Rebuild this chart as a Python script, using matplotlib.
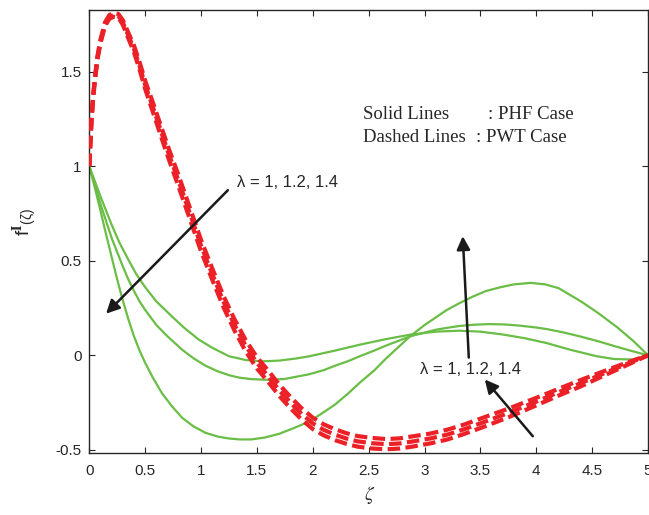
import matplotlib
matplotlib.use("Agg")
import matplotlib.pyplot as plt

# ---- data ----
# solid lines (PHF case)
xa = [0, 0.05, 0.1, 0.15, 0.2, 0.25, 0.3, 0.35, 0.4, 0.45, 0.5, 0.57, 0.65, 0.74, 0.83,
      0.93, 1.04, 1.15, 1.25, 1.35, 1.45, 1.57, 1.7, 1.83, 1.97, 2.1, 2.2, 2.32, 2.42,
      2.55, 2.65, 2.76, 2.87, 3.0, 3.1, 3.2, 3.31, 3.43, 3.55, 3.68, 3.8, 3.95, 4.08,
      4.2, 4.3, 4.4, 4.55, 4.72, 4.87, 5.0]
ya = [1.0, 0.885, 0.765, 0.64, 0.52, 0.40, 0.29, 0.19, 0.10, 0.025, -0.04, -0.12, -0.20,
      -0.27, -0.33, -0.375, -0.41, -0.43, -0.44, -0.445, -0.445, -0.435, -0.415, -0.385,
      -0.35, -0.30, -0.26, -0.20, -0.145, -0.08, -0.02, 0.04, 0.10, 0.16, 0.20, 0.24,
      0.275, 0.31, 0.34, 0.36, 0.375, 0.383, 0.375, 0.355, 0.32, 0.285, 0.225, 0.15,
      0.075, 0.0]

xb = [0, 0.05, 0.1, 0.15, 0.2, 0.25, 0.3, 0.35, 0.4, 0.45, 0.5, 0.6, 0.7, 0.83, 0.93,
      1.04, 1.15, 1.25, 1.34, 1.45, 1.61, 1.75, 1.97, 2.1, 2.2, 2.32, 2.42, 2.55, 2.65,
      2.76, 2.87, 3.0, 3.1, 3.2, 3.31, 3.45, 3.58, 3.72, 3.85, 4.0, 4.1, 4.25, 4.39,
      4.55, 4.72, 4.87, 5.0]
yb = [1.0, 0.90, 0.80, 0.71, 0.62, 0.545, 0.47, 0.40, 0.34, 0.285, 0.24, 0.16, 0.10,
      0.03, -0.015, -0.055, -0.085, -0.105, -0.118, -0.126, -0.13, -0.125, -0.10, -0.078,
      -0.055, -0.03, -0.005, 0.025, 0.05, 0.075, 0.10, 0.12, 0.135, 0.145, 0.155, 0.162,
      0.165, 0.163, 0.157, 0.147, 0.138, 0.12, 0.10, 0.075, 0.045, 0.02, 0.0]

xc = [0, 0.05, 0.1, 0.15, 0.2, 0.27, 0.35, 0.42, 0.5, 0.6, 0.74, 0.85, 0.98, 1.1, 1.25,
      1.4, 1.55, 1.7, 1.85, 1.97, 2.2, 2.42, 2.65, 2.87, 3.1, 3.31, 3.5, 3.7, 3.9, 4.09,
      4.3, 4.54, 4.7, 4.86, 5.0]
yc = [1.0, 0.92, 0.84, 0.765, 0.69, 0.595, 0.505, 0.43, 0.36, 0.285, 0.205, 0.145, 0.083,
      0.04, -0.005, -0.025, -0.032, -0.028, -0.017, -0.005, 0.025, 0.056, 0.085, 0.109,
      0.125, 0.13, 0.125, 0.11, 0.09, 0.065, 0.03, -0.005, -0.02, -0.022, 0.0]

# dashed lines (PWT case)
xr = [0, 0.01, 0.02, 0.035, 0.05, 0.075, 0.1, 0.14, 0.18, 0.22, 0.26, 0.3, 0.35, 0.4,
      0.45, 0.5, 0.57, 0.65, 0.72, 0.8, 0.9, 1.0, 1.1, 1.2, 1.3, 1.4, 1.5, 1.6, 1.7, 1.8,
      1.9, 2.0, 2.1, 2.2, 2.3, 2.4, 2.53, 2.66, 2.78, 2.9, 3.05, 3.2, 3.35, 3.5, 3.75,
      4.0, 4.2, 4.4, 4.6, 4.8, 5.0]
yr1 = [1.0, 1.125, 1.24, 1.36, 1.45, 1.57, 1.65, 1.74, 1.78, 1.79,
       1.785, 1.748, 1.675, 1.602, 1.51, 1.408, 1.285, 1.143, 1.022, 0.89,
       0.72, 0.55, 0.40, 0.255, 0.13, 0.02, -0.07, -0.14, -0.215, -0.28,
       -0.34, -0.39, -0.424, -0.449, -0.468, -0.483, -0.493, -0.497, -0.493, -0.482,
       -0.466, -0.446, -0.417, -0.385, -0.328, -0.265, -0.213, -0.164, -0.109, -0.055,
       0.0]
yr2 = [1.0, 1.13, 1.25, 1.37, 1.46, 1.58, 1.66, 1.75, 1.79, 1.80,
       1.795, 1.76, 1.69, 1.62, 1.53, 1.43, 1.31, 1.17, 1.05, 0.92,
       0.75, 0.58, 0.43, 0.285, 0.16, 0.05, -0.04, -0.11, -0.185, -0.25,
       -0.31, -0.36, -0.395, -0.42, -0.44, -0.455, -0.465, -0.47, -0.466, -0.455,
       -0.44, -0.42, -0.392, -0.36, -0.305, -0.245, -0.195, -0.147, -0.097, -0.048,
       0.0]
yr3 = [1.0, 1.135, 1.26, 1.38, 1.47, 1.59, 1.67, 1.76, 1.80, 1.81,
       1.805, 1.772, 1.705, 1.638, 1.55, 1.452, 1.335, 1.197, 1.078, 0.95,
       0.78, 0.61, 0.46, 0.315, 0.19, 0.08, -0.01, -0.08, -0.155, -0.22,
       -0.28, -0.33, -0.366, -0.391, -0.412, -0.427, -0.437, -0.443, -0.439, -0.428,
       -0.414, -0.394, -0.367, -0.335, -0.282, -0.225, -0.177, -0.13, -0.085, -0.041,
       0.0]

xticks = [0, 0.5, 1, 1.5, 2, 2.5, 3, 3.5, 4, 4.5, 5]
xticklabels = ['0', '0.5', '1', '1.5', '2', '2.5', '3', '3.5', '4', '4.5', '5']
yticks = [-0.5, 0, 0.5, 1, 1.5]
yticklabels = ['-0.5', '0', '0.5', '1', '1.5']

green = '#6abd45'
red = '#ec2027'
dark = '#262626'

plt.rcParams['font.family'] = ['Liberation Sans', 'DejaVu Sans']
plt.rcParams['mathtext.fontset'] = 'stix'

fig = plt.figure(figsize=(6.49, 5.15), dpi=100)
ax = fig.add_axes([0.1376, 0.121, 0.8609, 0.8596])

for xs, ys in [(xa, ya), (xb, yb), (xc, yc)]:
    ax.plot(xs, ys, color=green, lw=1.6, zorder=2)

for ys in [yr1, yr2, yr3]:
    ax.plot(xr, ys, color=red, lw=3, ls=(0, (3, 1.3)), zorder=3)

ax.set_xlim(0, 5)
ax.set_ylim(-0.515, 1.826)
ax.set_xticks(xticks)
ax.set_xticklabels(xticklabels)
ax.set_yticks(yticks)
ax.set_yticklabels(yticklabels)
ax.tick_params(direction='in', length=4.5, width=0.8, top=True, right=True,
               labelsize=11, colors=dark)
ax.tick_params(axis='x', pad=8)
ax.tick_params(axis='y', pad=5.5)
for s in ax.spines.values():
    s.set_linewidth(1.0)
    s.set_color(dark)

ax.set_xlabel(r'$\zeta$', fontsize=14, color=dark)
ax.xaxis.set_label_coords(0.502, -0.07)
ax.set_ylabel(r'$\mathregular{f^{\mathbf{I}}{}_{(\zeta)}}$', fontsize=14, color=dark)
ax.yaxis.set_label_coords(-0.09, 0.521)

# annotation texts
ax.text(2.45, 1.272, 'Solid Lines', family='Liberation Serif', fontsize=13.5,
        va='center', color=dark)
ax.text(3.57, 1.272, ': PHF Case', family='Liberation Serif', fontsize=13.5,
        va='center', color=dark)
ax.text(2.45, 1.151, 'Dashed Lines', family='Liberation Serif', fontsize=13.5,
        va='center', color=dark)
ax.text(3.46, 1.151, ': PWT Case', family='Liberation Serif', fontsize=13.5,
        va='center', color=dark)

ax.text(1.32, 0.916, 'λ = 1, 1.2, 1.4', fontsize=12, va='center', color=dark)
ax.text(2.96, -0.075, 'λ = 1, 1.2, 1.4', fontsize=12, va='center', color=dark)

arr = dict(arrowstyle='-|>', lw=1.8, color='#1a1a1a', mutation_scale=20, shrinkA=0, shrinkB=0)
ax.annotate('', xy=(0.15, 0.22), xytext=(1.24, 0.873), arrowprops=arr)
ax.annotate('', xy=(3.342, 0.63), xytext=(3.396, -0.012), arrowprops=arr)
ax.annotate('', xy=(3.539, -0.128), xytext=(3.969, -0.428), arrowprops=arr)

fig.savefig('out.png', dpi=100)
